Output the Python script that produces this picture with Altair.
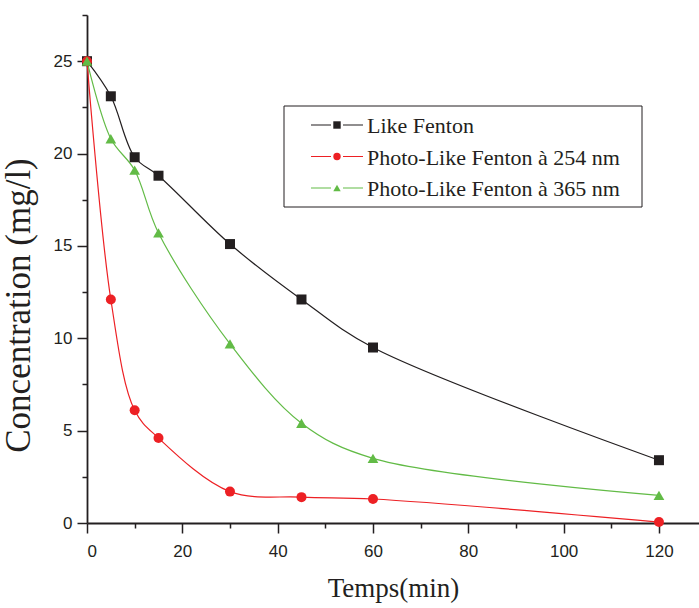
import altair as alt
import pandas as pd

# ---- data ----
times = [0, 5, 10, 15, 30, 45, 60, 120]
series_names = ["Like Fenton", "Photo-Like Fenton à 254 nm", "Photo-Like Fenton à 365 nm"]
like_fenton = [25.0, 23.1, 19.8, 18.8, 15.1, 12.1, 9.5, 3.4]
photo_254 = [25.0, 12.1, 6.1, 4.6, 1.7, 1.4, 1.3, 0.05]
photo_365 = [25.0, 20.8, 19.1, 15.7, 9.7, 5.4, 3.5, 1.5]
x_ticks = [0, 10, 20, 30, 40, 50, 60, 70, 80, 90, 100, 110, 120]
y_ticks = [0, 2.5, 5, 7.5, 10, 12.5, 15, 17.5, 20, 22.5, 25, 27.5]

colors = ["#231f20", "#ed2024", "#62bb46"]
marker_shapes = ["square", "circle", "triangle-up"]

rows = []
for name, vals in zip(series_names, [like_fenton, photo_254, photo_365]):
    for t, v in zip(times, vals):
        rows.append({"t": t, "c": v, "series": name})
df = pd.DataFrame(rows)
legend_df = pd.DataFrame({"series": series_names})
box_df = pd.DataFrame({"box": [0]})

x_enc = alt.X(
    "t:Q",
    scale=alt.Scale(domain=[0, 128.4], nice=False, zero=False),
    axis=alt.Axis(
        values=x_ticks,
        labelExpr="datum.value % 20 === 0 ? datum.label : ''",
        tickSize={"condition": {"test": "datum.value % 20 === 0", "value": 10}, "value": 5},
        grid=False,
        title="Temps(min)",
        titleFont="Liberation Serif",
        titleFontSize=27,
        titleFontWeight="normal",
        titleColor="#231f20",
        titleBaseline="alphabetic",
        titleY=73,
        labelFont="Liberation Sans",
        labelFontSize=17,
        labelColor="#231f20",
        labelPadding=10,
        domainColor="#231f20",
        domainWidth=1.8,
        tickColor="#231f20",
        tickWidth=1.5,
    ),
)
y_enc = alt.Y(
    "c:Q",
    scale=alt.Scale(domain=[0, 27.5], nice=False, zero=False),
    axis=alt.Axis(
        values=y_ticks,
        labelExpr="datum.value % 5 === 0 ? datum.label : ''",
        tickSize={"condition": {"test": "datum.value % 5 === 0", "value": 10}, "value": 5},
        grid=False,
        title="Concentration (mg/l)",
        titleFont="Liberation Serif",
        titleFontSize=35,
        titleFontWeight="normal",
        titleColor="#231f20",
        titleBaseline="alphabetic",
        titleX=-58,
        titleY=290,
        labelFont="Liberation Sans",
        labelFontSize=17,
        labelColor="#231f20",
        labelPadding=5,
        domainColor="#231f20",
        domainWidth=1.8,
        tickColor="#231f20",
        tickWidth=1.5,
    ),
)

color_scale = alt.Scale(domain=series_names, range=colors)
color_enc = alt.Color("series:N", scale=color_scale, legend=None)

base = alt.Chart(df)

lines = base.mark_line(interpolate="catmull-rom", strokeWidth=1.2).encode(
    x=x_enc, y=y_enc, color=color_enc, detail="series:N"
)

point_layers = []
for name, shp in zip(series_names, marker_shapes):
    point_layers.append(
        base.transform_filter(alt.datum.series == name)
        .mark_point(filled=True, shape=shp, size=100 if shp != "triangle-up" else 115, opacity=1)
        .encode(x="t:Q", y="c:Q", color=color_enc)
    )

data_chart = alt.layer(lines, *point_layers)

# ---- hand-made legend (line - marker - line, label) inside a framed box ----
leg_y = alt.Y(
    "series:N",
    scale=alt.Scale(type="point", domain=series_names, range=[110, 173], padding=0),
    axis=None,
)
leg_base = alt.Chart(legend_df)

leg_box = alt.Chart(box_df).mark_rect(fill="white", stroke="#231f20", strokeWidth=1).encode(
    x=alt.value(197), x2=alt.value(555), y=alt.value(91), y2=alt.value(192)
)
leg_lines = leg_base.mark_rule(strokeWidth=1.2).encode(
    x=alt.value(224), x2=alt.value(276), y=leg_y, color=color_enc
)
leg_marks = leg_base.mark_point(filled=True, size=55, opacity=1).encode(
    x=alt.value(250),
    y=leg_y,
    color=color_enc,
    shape=alt.Shape("series:N", scale=alt.Scale(domain=series_names, range=marker_shapes), legend=None),
)
leg_white = leg_base.mark_rule(strokeWidth=3, color="white").encode(
    x=alt.value(244), x2=alt.value(256), y=leg_y
)
leg_text = leg_base.mark_text(
    align="left", baseline="middle", font="Liberation Serif", fontSize=22, color="#231f20", dy=1
).encode(x=alt.value(280), y=leg_y, text="series:N")

legend_chart = alt.layer(leg_box, leg_lines, leg_white, leg_marks, leg_text)

chart = (
    alt.layer(data_chart, legend_chart)
    .resolve_scale(y="independent")
    .properties(
        width=612,
        height=508,
        autosize=alt.AutoSizeParams(type="none"),
        padding={"left": 87, "top": 15, "right": 0, "bottom": 85},
        background="white",
    )
    .configure_view(stroke=None)
)

chart.save("out.html", embed_options={"renderer": "svg", "actions": False})
